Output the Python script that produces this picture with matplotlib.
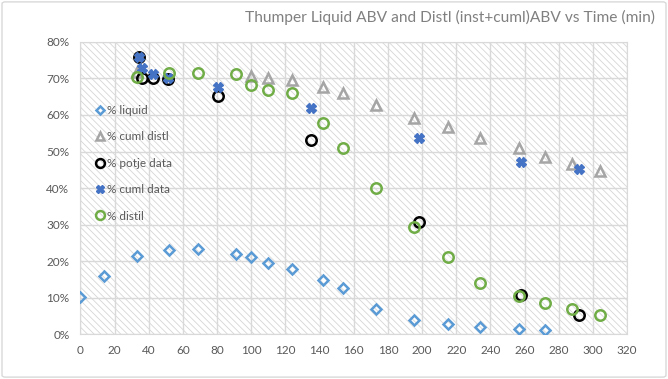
import matplotlib
matplotlib.use("Agg")
import matplotlib.pyplot as plt
from matplotlib.patches import Rectangle, FancyBboxPatch
from matplotlib.ticker import FuncFormatter

plt.rcParams["font.family"] = ["Lato", "DejaVu Sans"]
plt.rcParams["hatch.linewidth"] = 0.6

# --- data ------------------------------------------------------------------
liquid_t = [0, 14, 33, 52, 69, 91, 100, 110, 124, 142, 154, 173, 195, 215, 234, 257, 272]
liquid_abv = [10.1, 15.9, 21.4, 23.0, 23.3, 21.9, 21.1, 19.5, 17.8, 14.8, 12.6,
              6.8, 3.8, 2.7, 2.0, 1.4, 1.1]

cuml_distl_t = [33, 100, 110, 124, 142, 154, 173, 195, 215, 234, 257, 272, 288, 304]
cuml_distl_abv = [71.8, 70.8, 70.1, 69.6, 67.8, 66.1, 62.7, 59.3, 56.7, 53.8,
                  50.9, 48.6, 46.6, 44.7]

data_t = [34, 36, 42.5, 51, 80.5, 135, 198, 258, 292]
potje_abv = [76.0, 70.0, 70.0, 69.8, 65.3, 53.2, 30.8, 10.7, 5.3]
cuml_data_abv = [76.0, 72.8, 71.3, 70.2, 67.6, 62.0, 53.8, 47.0, 45.3]

distil_t = [33, 52, 69, 91, 100, 110, 124, 142, 154, 173, 195, 215, 234, 257, 272, 288, 304]
distil_abv = [70.4, 71.6, 71.5, 71.1, 68.1, 66.8, 65.9, 57.9, 51.0, 40.1, 29.3,
              21.1, 14.0, 10.4, 8.5, 6.8, 5.2]

x_ticks = list(range(0, 321, 20))
y_ticks = list(range(0, 81, 10))

TEXT = "#595959"
GRID = "#d9d9d9"

fig = plt.figure(figsize=(6.68, 3.79), dpi=100)
ax = fig.add_axes([0.1205, 0.1187, 0.8181, 0.7705])

# hatched plot area
ax.add_patch(Rectangle((0, 0), 1, 1, transform=ax.transAxes, fill=False,
                       hatch="\\\\\\\\\\", ec="#d6d6d6", lw=0, zorder=0))

ax.plot(liquid_t, liquid_abv, ls="none", marker="D", ms=5, mfc="none",
        mec="#5b9bd5", mew=1.8, label="% liquid", zorder=3)
ax.plot(cuml_distl_t, cuml_distl_abv, ls="none", marker="^", ms=7.5, mfc="none",
        mec="#a5a5a5", mew=1.8, label="% cuml distl", zorder=3)
ax.plot(data_t, potje_abv, ls="none", marker="o", ms=7.5, mfc="none",
        mec="black", mew=1.8, label="% potje data", zorder=3)
ax.plot(data_t, cuml_data_abv, ls="none", marker="X", ms=7,
        color="#4472c4", mec="#4472c4", label="% cuml data", zorder=3)
ax.plot(distil_t, distil_abv, ls="none", marker="o", ms=7.5, mfc="none",
        mec="#70ad47", mew=1.8, label="% distil", zorder=3)

ax.set_xlim(0, 320)
ax.set_ylim(0, 80)
ax.set_xticks(x_ticks)
ax.set_yticks(y_ticks)
ax.yaxis.set_major_formatter(FuncFormatter(lambda v, _: f"{v:.0f}%"))
ax.grid(True, color=GRID, lw=1, zorder=1)
ax.set_axisbelow(True)
for s in ax.spines.values():
    s.set_color(GRID)
ax.tick_params(length=0, colors=TEXT, labelsize=8.5, pad=8)

ax.legend(loc="upper left", bbox_to_anchor=(0.02, 0.80), frameon=False,
          handlelength=0.6, handletextpad=0.35, labelspacing=1.3,
          markerscale=0.85, fontsize=8.5, labelcolor=TEXT, borderaxespad=0)

fig.text(0.981, 0.955, "Thumper Liquid ABV and Distl (inst+cuml)ABV vs Time (min)",
         ha="right", va="center", fontsize=11.2, color="#808080")

fig.add_artist(FancyBboxPatch((0.003, 0.005), 0.994, 0.99, boxstyle="round,pad=0,rounding_size=0.005",
                              transform=fig.transFigure, fill=False, ec=GRID, lw=1))

fig.savefig("out.png", dpi=100)
